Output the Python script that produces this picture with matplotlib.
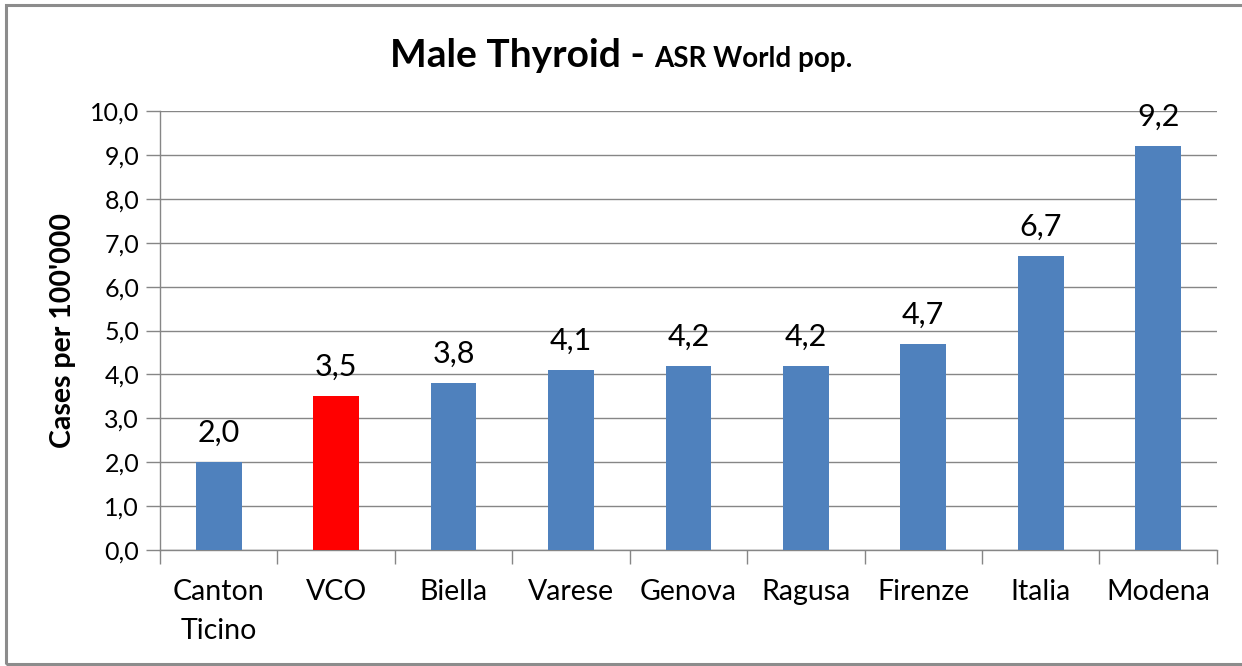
import numpy as np
from matplotlib import pyplot as plt
from matplotlib.patches import Rectangle

plt.rcParams['font.family'] = ['Lato', 'DejaVu Sans']

regions = ["Canton\nTicino", "VCO", "Biella", "Varese", "Genova", "Ragusa", "Firenze", "Italia", "Modena"]
rates = [2.0, 3.5, 3.8, 4.1, 4.2, 4.2, 4.7, 6.7, 9.2]
highlight = "VCO"

blue = "#4f81bd"
red = "#ff0000"
grid_col = "#868686"

fig = plt.figure(figsize=(12.42, 6.66), dpi=100)
ax = fig.add_axes([0.1288, 0.1742, 0.851, 0.6591])

x = np.arange(len(regions))
colors = [red if r == highlight else blue for r in regions]
rects = ax.bar(x, rates, 0.39, color=colors, zorder=3)
ax.bar_label(rects, labels=[f"{v:.1f}".replace(".", ",") for v in rates],
             padding=11, fontsize=22)

ax.set_xlim(-0.5, len(regions) - 0.5)
ax.set_ylim(0, 10)
ax.set_yticks(np.arange(0, 11, 1))
ax.set_yticklabels([f"{v:.1f}".replace(".", ",") for v in np.arange(0, 11, 1)], fontsize=18)
ax.yaxis.grid(True, color=grid_col, linewidth=1, zorder=0)

# category labels in the middle, tick marks between categories
ax.set_xticks(x)
ax.set_xticklabels(regions, fontsize=20.5, linespacing=1.6)
ax.tick_params(axis='x', length=0, pad=21)
ax.set_xticks(np.arange(-0.5, len(regions), 1), minor=True)
ax.tick_params(axis='x', which='minor', length=10, color=grid_col, width=1)
ax.tick_params(axis='y', length=10, color=grid_col, width=1, pad=5)

for s in ['top', 'right']:
    ax.spines[s].set_visible(False)
for s in ['left', 'bottom']:
    ax.spines[s].set_color(grid_col)
    ax.spines[s].set_linewidth(1)

ax.set_ylabel("Cases per 100'000", fontsize=20.5, fontweight='bold', labelpad=10)

# two-size title
fig.text(0.519, 0.900, "Male Thyroid -", fontsize=28, fontweight='bold', ha='right', va='baseline')
fig.text(0.527, 0.900, "ASR World pop.", fontsize=20, fontweight='bold', ha='left', va='baseline')

# chart border
fig.patches.append(Rectangle((6 / 1242, 2 / 666), 1.1, 659 / 666, transform=fig.transFigure,
                             fill=False, edgecolor="#8c8c8c", linewidth=2.2))

fig.savefig("out.png", dpi=100)
